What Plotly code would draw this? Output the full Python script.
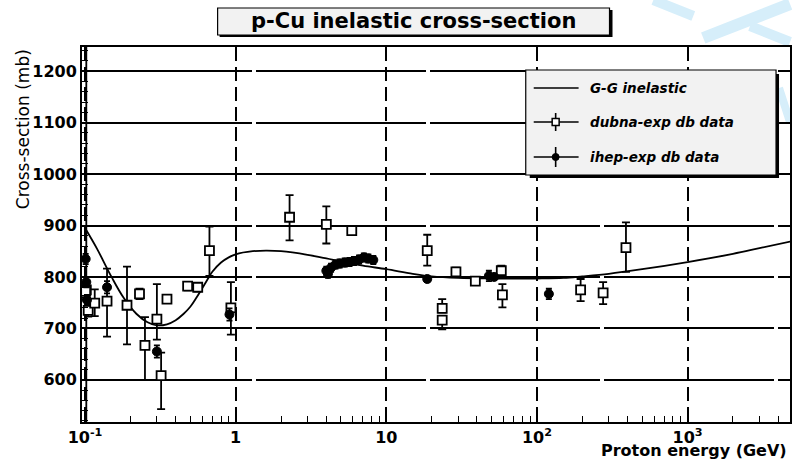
import plotly.graph_objects as go

# ---------------- data ----------------
curve_e = [0.1, 0.12, 0.15, 0.18, 0.22, 0.26, 0.30, 0.35, 0.40, 0.45, 0.50, 0.55, 0.60, 0.65,
           0.7, 0.8, 0.9, 1.0, 1.3, 1.6, 2.0, 3.0, 4.0, 5.0, 7.0, 10, 15, 20, 30, 50, 100,
           150, 200, 300, 500, 1000, 2000, 3000, 5000]
curve_xs = [895, 855, 800, 760, 728, 712, 706, 708, 716, 728, 742, 760, 778, 795,
            810, 828, 838, 844, 850, 851, 850, 843, 836, 830, 822, 815, 806, 801, 798, 797, 797,
            798, 801, 806, 815, 829, 845, 856, 870]

dubna_e = [0.102, 0.101, 0.105, 0.116, 0.14, 0.19, 0.23, 0.25, 0.30, 0.32, 0.35, 0.48, 0.56,
           0.67, 0.93, 2.28, 4.0, 5.9, 18.7, 23.5, 23.5, 29, 39, 58, 59, 195, 275, 390]
dubna_xs = [775, 772, 735, 749, 753, 745, 767, 667, 718, 608, 757, 782, 780,
            851, 740, 916, 902, 890, 851, 739, 716, 810, 792, 812, 765, 775, 769, 857]
dubna_up = [480, 15, 12, 27, 63, 75, 10, 55, 68, 45, 8, 8, 8,
            47, 50, 43, 35, 0, 31, 18, 8, 8, 8, 10, 21, 21, 21, 49]
dubna_dn = [480, 15, 12, 25, 69, 76, 10, 67, 40, 65, 8, 8, 8,
            49, 52, 45, 37, 0, 29, 8, 18, 8, 8, 8, 24, 22, 22, 47]

ihep_e = [0.101, 0.102, 0.103, 0.14, 0.30, 0.91, 4.0, 4.1, 4.3, 4.6, 4.9, 5.3, 5.7, 6.1,
          6.6, 7.1, 7.6, 8.2, 18.7, 48, 52, 120]
ihep_xs = [835, 790, 755, 780, 655, 727, 812, 806, 818, 824, 826, 828, 829, 831,
           834, 838, 836, 833, 796, 802, 800, 767]
ihep_err = [10, 10, 10, 12, 12, 12, 8, 8, 8, 8, 8, 8, 8, 8,
            8, 8, 8, 8, 6, 10, 6, 10]

x_tickvals = [0.1, 1, 10, 100, 1000]
x_ticktext = ["10<sup>-1</sup>", "1", "10", "10<sup>2</sup>", "10<sup>3</sup>"]
y_tickvals = [600, 700, 800, 900, 1000, 1100, 1200]

title_text = "p-Cu inelastic cross-section"
legend_labels = ["G-G inelastic", "dubna-exp db data", "ihep-exp db data"]

# ---------------- figure ----------------
W, H = 792, 461
L, R, T, B = 82, 0, 47, 39
PW, PH = W - L - R, H - T - B


def px(x):
    return (x - L) / PW


def py(y):
    return (H - B - y) / PH


FONT = "DejaVu Sans, Verdana, sans-serif"

fig = go.Figure()

fig.add_trace(go.Scatter(
    x=curve_e, y=curve_xs, mode="lines", line=dict(color="black", width=1.8, shape="spline"),
    name=legend_labels[0], showlegend=False, hoverinfo="skip"))

fig.add_trace(go.Scatter(
    x=dubna_e, y=dubna_xs, mode="markers", name=legend_labels[1], showlegend=False,
    marker=dict(symbol="square", size=9, color="white", line=dict(color="black", width=1.8)),
    error_y=dict(type="data", symmetric=False, array=dubna_up, arrayminus=dubna_dn,
                 color="black", thickness=1.8, width=4)))

fig.add_trace(go.Scatter(
    x=ihep_e, y=ihep_xs, mode="markers", name=legend_labels[2], showlegend=False,
    marker=dict(symbol="circle", size=9, color="black", line=dict(color="black", width=1)),
    error_y=dict(type="data", array=ihep_err, color="black", thickness=1.8, width=3)))

shapes = []
annotations = []

# watermark-like light blue strokes (background decoration, outside the plot frame)
wm = "#d6eefa"
for (x0, y0, x1, y1, w) in [(655, 0, 695, 16, 10), (705, 38, 792, 4, 12), (752, 26, 792, 42, 10),
                            (781, 88, 792, 122, 8)]:
    shapes.append(dict(type="line", xref="paper", yref="paper", x0=px(x0), y0=py(y0),
                       x1=px(x1), y1=py(y1), line=dict(color=wm, width=w), layer="below"))

# title box with shadow
shapes.append(dict(type="rect", xref="paper", yref="paper", x0=px(220), x1=px(614),
                   y0=py(37), y1=py(10), fillcolor="black", line=dict(width=0)))
shapes.append(dict(type="rect", xref="paper", yref="paper", x0=px(218), x1=px(611),
                   y0=py(35), y1=py(8), fillcolor="#f2f2f2", line=dict(color="black", width=1.2)))
annotations.append(dict(text="<b>%s</b>" % title_text, xref="paper", yref="paper", x=px(414.5),
                        y=py(21.5), showarrow=False, xanchor="center", yanchor="middle",
                        font=dict(family=FONT, size=21, color="black")))

# legend box with shadow
shapes.append(dict(type="rect", xref="paper", yref="paper", x0=px(531), x1=px(781),
                   y0=py(178), y1=py(74), fillcolor="black", line=dict(width=0)))
shapes.append(dict(type="rect", xref="paper", yref="paper", x0=px(527), x1=px(778),
                   y0=py(175), y1=py(70), fillcolor="#f2f2f2", line=dict(color="black", width=1.2)))
leg_y = [88, 122, 157]
for i, yy in enumerate(leg_y):
    shapes.append(dict(type="line", xref="paper", yref="paper", x0=px(535), x1=px(580),
                       y0=py(yy), y1=py(yy), line=dict(color="black", width=1.5)))
    annotations.append(dict(text="<b><i>%s</i></b>" % legend_labels[i], xref="paper", yref="paper",
                            x=px(589), y=py(yy), showarrow=False, xanchor="left", yanchor="middle",
                            font=dict(family=FONT, size=13.5, color="black")))
# legend markers
shapes.append(dict(type="line", xref="paper", yref="paper", x0=px(557), x1=px(557),
                   y0=py(leg_y[1] - 9), y1=py(leg_y[1] + 9), line=dict(color="black", width=1.6)))
shapes.append(dict(type="rect", xref="paper", yref="paper", x0=px(553.5), x1=px(560.5),
                   y0=py(leg_y[1] - 3.5), y1=py(leg_y[1] + 3.5), fillcolor="white",
                   line=dict(color="black", width=1.5)))
shapes.append(dict(type="line", xref="paper", yref="paper", x0=px(557), x1=px(557),
                   y0=py(leg_y[2] - 10), y1=py(leg_y[2] + 10), line=dict(color="black", width=1.6)))
shapes.append(dict(type="circle", xref="paper", yref="paper", x0=px(553.5), x1=px(560.5),
                   y0=py(leg_y[2] - 3.5), y1=py(leg_y[2] + 3.5), fillcolor="black",
                   line=dict(color="black", width=1)))

# axis titles
annotations.append(dict(text="<b>Proton energy (GeV)</b>", xref="paper", yref="paper", x=px(791),
                        y=py(451), showarrow=False, xanchor="right", yanchor="middle",
                        font=dict(family=FONT, size=16, color="black")))
annotations.append(dict(text="Cross-section (mb)", xref="paper", yref="paper", x=px(23), y=py(47),
                        showarrow=False, xanchor="center", yanchor="top", textangle=-90,
                        font=dict(family=FONT, size=17, color="black")))

x_minor = [m * 10 ** d for d in range(-1, 4) for m in range(2, 10)]
tick_font = dict(family=FONT, size=16, color="black", weight="bold")

fig.update_layout(
    width=W, height=H, margin=dict(l=L, r=R, t=T, b=B),
    paper_bgcolor="white", plot_bgcolor="white",
    showlegend=False, shapes=shapes, annotations=annotations,
    font=dict(family=FONT, size=15, color="black"),
    xaxis=dict(type="log", range=[-1.02, 3.68], tickmode="array", tickvals=x_tickvals,
               ticktext=x_ticktext, ticks="inside", ticklen=11, tickwidth=1.5, tickcolor="black",
               showline=True, linecolor="black", linewidth=2, mirror=True,
               showgrid=True, gridcolor="black", gridwidth=1.5, griddash="14px,6px",
               zeroline=False, tickfont=tick_font,
               minor=dict(tickvals=x_minor, ticks="inside", ticklen=6, tickwidth=1.3,
                          tickcolor="black", showgrid=False)),
    yaxis=dict(range=[518, 1247], tickmode="array", tickvals=y_tickvals,
               ticks="inside", ticklen=10, tickwidth=1.5, tickcolor="black",
               showline=True, linecolor="black", linewidth=2, mirror=True,
               showgrid=True, gridcolor="black", gridwidth=1.5, griddash="170px,4px",
               zeroline=False, tickfont=tick_font,
               minor=dict(dtick=20, ticks="inside", ticklen=6, tickwidth=1.3,
                          tickcolor="black", showgrid=False)),
)

fig.write_html("out.html")
